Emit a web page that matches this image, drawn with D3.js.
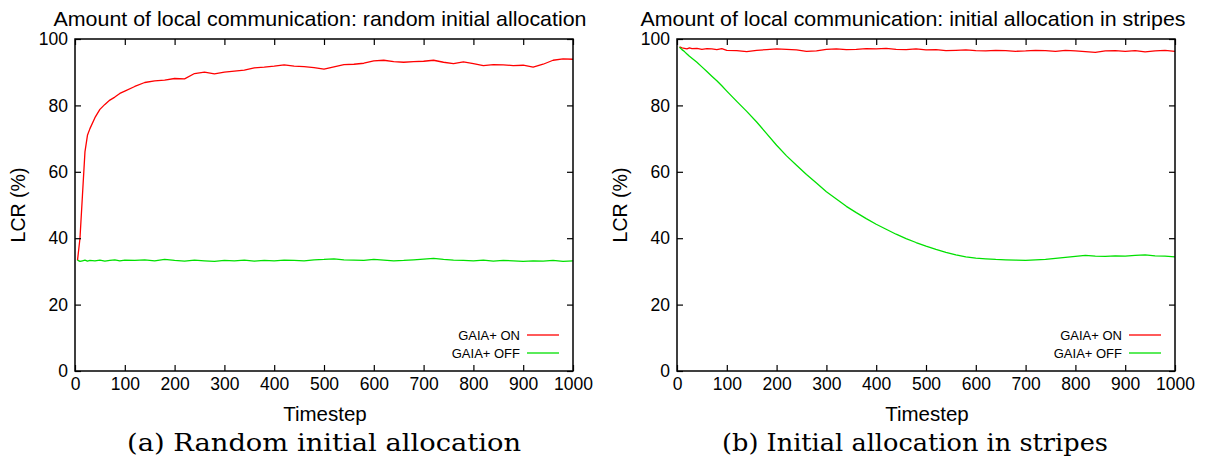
<!DOCTYPE html>
<html><head><meta charset="utf-8">
<script src="https://cdn.jsdelivr.net/npm/d3@7"></script>
<style>body{margin:0;background:#fff}</style></head>
<body>
<svg id="c" width="1205" height="459"></svg>
<script>
// ---------- data ----------
const steps = [5,10,15,20,25,30,40,50,60,70,80,90,100,
  120,140,160,180,200,220,240,260,280,300,
  320,340,360,380,400,420,440,460,480,500,
  520,540,560,580,600,620,640,660,680,700,
  720,740,760,780,800,820,840,860,880,900,
  920,940,960,980,1000];

const randomOn = [33.3,40,53,66,71,73,76.3,78.8,80.3,81.6,82.5,83.6,84.3,
  85.7,86.9,87.4,87.6,88.1,88.0,89.6,90.0,89.5,90.0,
  90.3,90.6,91.3,91.5,91.8,92.2,91.8,91.7,91.4,90.9,
  91.6,92.3,92.4,92.7,93.4,93.6,93.2,93.0,93.2,93.3,
  93.6,93.0,92.6,93.1,92.6,92.0,92.3,92.2,92.0,92.1,
  91.5,92.4,93.6,94.0,93.9];

const randomOff = [33.4,33.0,33.2,33.4,33.1,33.3,33.2,33.4,33.1,33.3,33.5,33.2,33.4,
  33.3,33.5,33.2,33.6,33.3,33.1,33.4,33.2,33.0,33.3,
  33.2,33.4,33.1,33.3,33.2,33.4,33.3,33.2,33.5,33.6,
  33.8,33.5,33.4,33.3,33.6,33.4,33.2,33.3,33.5,33.7,
  33.9,33.6,33.4,33.3,33.2,33.4,33.1,33.3,33.2,33.0,
  33.2,33.1,33.3,33.0,33.2];

const stripesOn = [97.6,97.3,97.2,97.0,97.3,97.1,97.2,96.9,97.1,97.0,96.8,97.1,96.6,
  96.5,96.2,96.6,96.8,97.0,96.9,96.7,96.3,96.4,96.9,
  97.0,96.8,96.9,97.1,97.0,97.2,96.9,96.8,97.0,96.7,
  96.8,96.5,96.6,96.7,96.5,96.4,96.6,96.5,96.3,96.4,
  96.6,96.5,96.3,96.6,96.4,96.2,96.0,96.4,96.5,96.3,
  96.5,96.1,96.4,96.6,96.3];

const stripesOff = [97.5,96.8,96.2,95.5,94.8,94.2,93.0,91.6,90.2,88.8,87.4,85.9,84.3,
  81.2,78.2,75.0,71.5,68.0,64.8,62.0,59.2,56.6,54.0,
  51.8,49.6,47.7,45.9,44.2,42.7,41.2,39.9,38.7,37.6,
  36.6,35.7,35.0,34.4,34.0,33.8,33.6,33.5,33.4,33.3,
  33.5,33.6,33.9,34.2,34.5,34.8,34.6,34.5,34.7,34.6,
  34.8,35.0,34.7,34.6,34.4];

const xTicks = [0,100,200,300,400,500,600,700,800,900,1000];
const yTicks = [0,20,40,60,80,100];
const seriesNames = ["GAIA+ ON", "GAIA+ OFF"];
const seriesColors = ["#ff0000", "#00e000"];
const titles = ["Amount of local communication: random initial allocation",
                "Amount of local communication: initial allocation in stripes"];
const captions = ["(a) Random initial allocation", "(b) Initial allocation in stripes"];
const xLabel = "Timestep";
const yLabel = "LCR (%)";

// ---------- drawing ----------
(function () {
const svg = d3.select("#c");
const sans = "'Liberation Sans', Arial, Helvetica, sans-serif";
const serif = "'DejaVu Serif', 'Liberation Serif', serif";

const panels = [
  {x0:75, x1:573, series:[randomOn, randomOff], title:titles[0], caption:captions[0],
   ylx:18, titleX:320, titleW:533, capX:324, capW:394},
  {x0:677, x1:1175, series:[stripesOn, stripesOff], title:titles[1], caption:captions[1],
   ylx:620, titleX:913, titleW:545, capX:915, capW:386}
];
const plotTop = 39, plotBottom = 371;

panels.forEach(p => {
  const g = svg.append("g");
  const x = d3.scaleLinear().domain([0,1000]).range([p.x0, p.x1]);
  const y = d3.scaleLinear().domain([0,100]).range([plotBottom, plotTop]);
  const cx = (p.x0 + p.x1) / 2;

  p.series.forEach((vals, i) => {
    const data = steps.map((s, k) => [s, vals[k]]);
    g.append("path").datum(data)
      .attr("fill","none").attr("stroke", seriesColors[i]).attr("stroke-width",1.3)
      .attr("stroke-linejoin","round")
      .attr("d", d3.line().x(d => x(d[0])).y(d => y(d[1])));
  });

  g.append("g").attr("transform",`translate(0,${plotBottom})`)
    .call(d3.axisBottom(x).tickValues(xTicks).tickFormat(d3.format("d"))
      .tickSizeInner(-6).tickSizeOuter(0).tickPadding(7));
  g.append("g").attr("transform",`translate(0,${plotTop})`)
    .call(d3.axisTop(x).tickValues(xTicks).tickSizeInner(-6).tickSizeOuter(0).tickFormat(""));
  g.append("g").attr("transform",`translate(${p.x0},0)`)
    .call(d3.axisLeft(y).tickValues(yTicks).tickFormat(d3.format("d"))
      .tickSizeInner(-6).tickSizeOuter(0).tickPadding(7));
  g.append("g").attr("transform",`translate(${p.x1},0)`)
    .call(d3.axisRight(y).tickValues(yTicks).tickSizeInner(-6).tickSizeOuter(0).tickFormat(""));
  g.selectAll(".domain").remove();
  g.selectAll(".tick line").attr("stroke","#000").attr("stroke-width",1.2);
  g.selectAll(".tick text").attr("font-family", sans).attr("font-size", 17.5).attr("fill","#000");

  g.append("rect").attr("x",p.x0).attr("y",plotTop).attr("width",p.x1-p.x0).attr("height",plotBottom-plotTop)
    .attr("fill","none").attr("stroke","#000").attr("stroke-width",1.5);

  g.append("text").attr("x", p.titleX).attr("y", 26).attr("text-anchor","middle")
    .attr("font-family", sans).attr("font-size", 21)
    .attr("textLength", p.titleW).attr("lengthAdjust","spacingAndGlyphs").text(p.title);
  g.append("text").attr("x", cx + 1).attr("y", 421).attr("text-anchor","middle")
    .attr("font-family", sans).attr("font-size", 20.5).text(xLabel);
  g.append("text").attr("transform",`translate(${p.ylx + 7},205) rotate(-90)`).attr("text-anchor","middle")
    .attr("font-family", sans).attr("font-size", 19.5).text(yLabel);
  g.append("text").attr("x", p.capX).attr("y", 451).attr("text-anchor","middle")
    .attr("font-family", serif).attr("font-size", 23.5)
    .attr("textLength", p.capW).attr("lengthAdjust","spacingAndGlyphs").text(p.caption);

  seriesNames.forEach((name, i) => {
    const ly = 335 + i * 18;
    g.append("line").attr("x1", p.x1 - 46).attr("x2", p.x1 - 14).attr("y1", ly).attr("y2", ly)
      .attr("stroke", seriesColors[i]).attr("stroke-width", 1.3);
    g.append("text").attr("x", p.x1 - 53).attr("y", ly + 4.5).attr("text-anchor","end")
      .attr("font-family", sans).attr("font-size", 13).text(name);
  });
});
})();
</script>
</body></html>
